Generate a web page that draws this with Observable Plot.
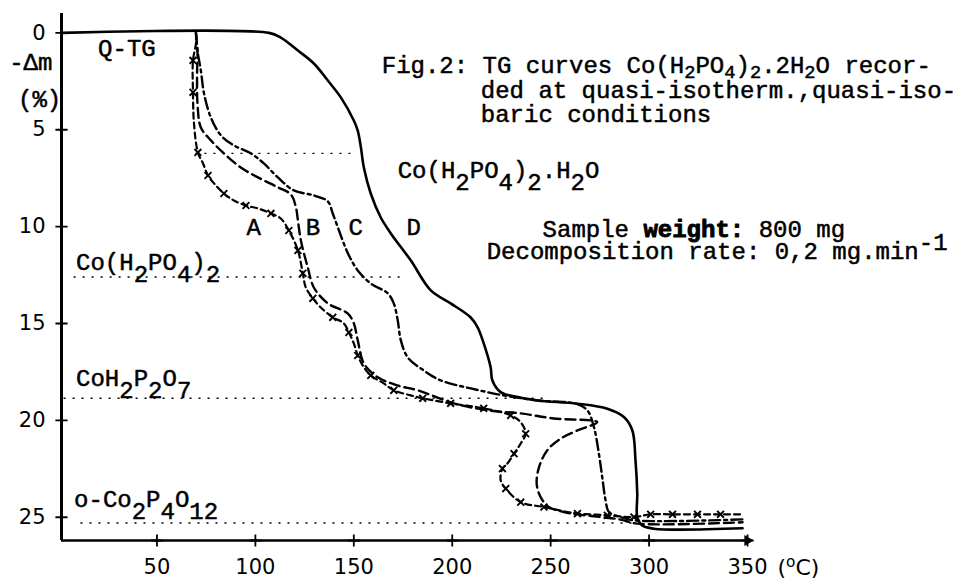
<!DOCTYPE html>
<html><head><meta charset="utf-8">
<script src="https://cdn.jsdelivr.net/npm/d3@7"></script>
<script src="https://cdn.jsdelivr.net/npm/@observablehq/plot@0.6"></script>
<style>html,body{margin:0;padding:0;background:#fff;} #chart{width:955px;height:583px;}</style>
</head><body><div id="chart"></div>
<script>
// ---- axes ----
const xTicks = [50, 100, 150, 200, 250, 300, 350];
const yTicks = [0, 5, 10, 15, 20, 25];
const xDomain = [1.5, 350];
const yDomain = [-1, 26.2];

// ---- curve D (solid) ----
const dT = [1.8,106.9,112.9,121.6,129.7,136.8,143.4,150.0,152.0,153.6,155.1,158.6,163.7,168.8,178.9,189.1,199.2,209.4,212.9,216.0,219.5,220.4,224.6,231.4,243.2,263.6,278.8,287.2,291.5,293.1,294.0,294.0,296.5,302.4,347.5];
const dM = [0,0,0.24,0.91,1.58,2.46,3.33,4.52,5.04,5.91,6.95,8.29,9.53,10.35,11.74,13.29,13.96,14.69,15.2,16.03,17.26,17.94,18.54,18.76,18.97,19.14,19.4,19.83,20.52,22.06,23.78,24.99,25.42,25.59,25.57];

// ---- curve C (dash-dot) ----
const cT = [69.8,70.8,72.3,73.9,77.4,82.5,89.1,97.7,104.3,111.4,119.5,129.7,136.8,139.3,141.9,147.0,152.0,158.6,167.3,170.3,172.3,173.9,177.4,185.5,194.2,209.4,226.1,243.4,263.2,268.6,272.0,274.5,276.2,277.9,279.6,285.5,292.1,347.5];
const cM = [0,1.06,1.94,3.13,4.37,5.29,5.81,6.22,6.74,7.46,8.13,8.39,8.7,9.32,10.04,11.38,12.26,12.93,13.45,13.96,14.84,15.87,16.75,17.42,17.94,18.35,18.71,18.97,19.15,19.48,20.35,21.72,22.93,24.13,24.73,24.99,25.16,25.11];

// ---- curve B (dashed) ----
const bT = [69.8,70.6,70.4,70.6,72.3,77.4,84.0,92.6,101.3,111.4,118.0,120.6,121.6,123.1,126.6,129.7,136.8,146.9,150.0,152.0,155.1,162.2,172.3,182.5,200.8,218.0,234.8,251.5,273.7,263.6,255.1,248.3,244.1,242.9,244.9,249.1,256.8,263.6,275.4,285.5,294.0,347.5];
const bM = [0,1.06,1.94,3.66,4.88,5.55,6.22,6.95,7.46,7.97,8.34,9.01,9.68,10.71,12.1,13.14,13.96,14.48,14.99,15.87,17.06,17.78,18.2,18.45,19.12,19.48,19.64,19.9,20.09,20.52,20.94,21.54,22.41,23.27,23.96,24.47,24.73,24.85,24.99,25.12,25.33,25.26];

// ---- curve A (dashed with x marks) ----
const aT = [69.8,69.8,68.3,68.3,68.8,70.8,73.4,75.9,79.0,84.0,89.1,95.2,101.3,107.9,112.9,117.0,121.6,124.1,125.6,129.2,133.2,139.3,144.9,147.5,150.0,152.0,155.1,158.6,165.2,170.3,178.9,185.0,199.2,216.0,229.7,234.8,237.3,234.8,231.4,228.0,225.5,224.6,227.2,234.8,246.6,258.5,263.6,278.8,292.3,300.8,311.9,324.6,336.3,347.5];
const aM = [0,0.55,1.42,3.07,4.67,6.17,6.74,7.36,7.77,8.29,8.65,8.91,9.06,9.32,9.58,10.2,11.23,12.41,13.14,13.7,14.17,14.68,14.99,15.46,16.03,16.65,17.26,17.68,18.09,18.45,18.71,18.86,19.12,19.38,19.74,20.1,20.69,21.19,21.72,22.23,22.49,23.09,23.52,24.22,24.47,24.73,24.81,24.9,24.99,24.85,24.85,24.85,24.85,24.85];
const aMark = [0,0,1,1,0,1,0,1,0,1, 0,1,0,1,0,1,1,1,0,1, 0,1,0,1,0,1,0,1,0,1, 0,1,1,1,1,0,1,0,1,0, 1,0,1,1,1,0,1,1,1,1, 1,1,1,0];

// ---- composition levels (dotted) ----
const levelM = [6.22, 12.6, 18.86, 25.3];
const levelFrom = [69.8, 7.9, 2.8, 11.4];
const levelTo = [148.5, 175.4, 247, 299.2];

// ---- curve letters ----
const curveLabel = ["A", "B", "C", "D"];
const labelT = [99.2, 129.2, 151.0, 180.4];
const labelM = [10.45, 10.45, 10.45, 10.45];

// ---- annotations ----
const noteText = [
  "Q-TG",
  "Fig.2: TG curves Co(H_[2]PO_[4])_[2].2H_[2]O recor-",
  "ded at quasi-isotherm.,quasi-iso-",
  "baric conditions",
  "Co(H_{2}PO_{4})_{2}.H_{2}O",
  "Sample *{weight:} 800 mg",
  "Decomposition rate: 0,2 mg.min^{-1}",
  "Co(H_{2}PO_{4})_{2}",
  "CoH_{2}P_{2}O_{7}",
  "o-Co_{2}P_{4}O_{12}",
  "-Δm",
  "(%)"
];
const noteX = [20.1, 164.2, 214.5, 214.5, 172.3, 245.9, 217.5, 8.9, 8.9, 7.9, -25.1, -20.6];
const noteY = [1.17, 2.09, 3.36, 4.62, 7.47, 10.51, 11.69, 12.26, 18.25, 24.49, 1.94, 3.8];
const unitText = ["(^{o}C)"];
const unitX = [365.2];
const unitY = [28.0];

// ---- tables ----
const table = (T, M, extra) => T.map((t, i) => ({t, m: M[i], mark: extra ? extra[i] : 0}));
const D = table(dT, dM), C = table(cT, cM), B = table(bT, bM), A = table(aT, aM, aMark);
const levels = levelM.map((m, i) => ({m, from: levelFrom[i], to: levelTo[i]}));
const letters = curveLabel.map((s, i) => ({s, t: labelT[i], m: labelM[i]}));
const notes = noteText.map((s, i) => ({s, t: noteX[i], m: noteY[i]}));
const units = unitText.map((s, i) => ({s, t: unitX[i], m: unitY[i]}));

const mono = "'Liberation Mono', 'DejaVu Sans Mono', monospace";

const chart = Plot.plot({
  width: 955, height: 583,
  marginLeft: 61, marginRight: 208, marginTop: 13, marginBottom: 43,
  style: {fontFamily: "'DejaVu Sans', sans-serif", fontSize: "21px", color: "black", background: "white"},
  x: {domain: xDomain, ticks: xTicks, tickSize: 0, tickPadding: 19, label: null},
  y: {domain: yDomain, reverse: true, ticks: yTicks, tickSize: 0, tickPadding: 16, label: null},
  marks: [
    Plot.ruleY(levels, {y: "m", x1: "from", x2: "to", stroke: "black", strokeWidth: 1.4, strokeDasharray: "2,7"}),
    Plot.line(D, {x: "t", y: "m", curve: "catmull-rom", stroke: "black", strokeWidth: 2.6}),
    Plot.line(C, {x: "t", y: "m", curve: "catmull-rom", stroke: "black", strokeWidth: 2.4, strokeDasharray: "11,4,3,4"}),
    Plot.line(B, {x: "t", y: "m", curve: "catmull-rom", stroke: "black", strokeWidth: 2.4, strokeDasharray: "10,5"}),
    Plot.line(A, {x: "t", y: "m", curve: "catmull-rom", stroke: "black", strokeWidth: 2.2, strokeDasharray: "6,4"}),
    Plot.dot(A.filter(d => d.mark), {x: "t", y: "m", symbol: "times", r: 3.2, stroke: "black", strokeWidth: 1.9}),
    Plot.ruleX([xDomain[0]], {y1: yDomain[0], y2: yDomain[1], stroke: "black", strokeWidth: 3}),
    Plot.ruleY([yDomain[1]], {x1: xDomain[0], x2: xDomain[1], stroke: "black", strokeWidth: 2.6}),
    Plot.dot(yTicks, {x: () => xDomain[0], y: d => d, symbol: "plus", r: 4, stroke: "black", strokeWidth: 1.8}),
    Plot.dot(xTicks, {x: d => d, y: () => yDomain[1], symbol: "plus", r: 4, stroke: "black", strokeWidth: 1.8}),
    Plot.dot([xDomain[1]], {x: d => d, y: () => yDomain[1], symbol: "triangle", rotate: 90, r: 4, fill: "black"}),
    Plot.text(letters, {x: "t", y: "m", text: "s", textAnchor: "middle", lineAnchor: "bottom", fontFamily: mono, fontSize: 24, fill: "black", stroke: "black", strokeWidth: 0.5}),
    Plot.text(notes, {x: "t", y: "m", text: "s", textAnchor: "start", lineAnchor: "bottom", fontFamily: mono, fontSize: 24, fill: "black", stroke: "black", strokeWidth: 0.5}),
    Plot.text(units, {x: "t", y: "m", text: "s", textAnchor: "start", lineAnchor: "bottom", fontFamily: "'DejaVu Sans', sans-serif", fontSize: 22, fill: "black"})
  ]
});

document.getElementById("chart").appendChild(chart);

// rich text: _{..} lowered full-size, _[..] small subscript, ^{..} raised, *{..} bold
(function richText(svg) {
  const ns = "http://www.w3.org/2000/svg";
  svg.querySelectorAll("text").forEach(t => {
    const s = t.textContent;
    if (!/[_^*][\[{]/.test(s)) return;
    const fs = parseFloat(getComputedStyle(t).fontSize) || 24;
    while (t.firstChild) t.removeChild(t.firstChild);
    const re = /([_^*])([\[{])([^\]}]*)[\]}]/g;
    let off = 0, last = 0, m;
    const add = (str, target, opts = {}) => {
      const ts = document.createElementNS(ns, "tspan");
      ts.textContent = str;
      if (target !== off) { ts.setAttribute("dy", String(target - off)); off = target; }
      if (opts.size) ts.setAttribute("font-size", String(opts.size));
      if (opts.bold) { ts.setAttribute("font-weight", "bold"); ts.setAttribute("stroke-width", "0.9"); }
      t.appendChild(ts);
    };
    while ((m = re.exec(s))) {
      if (m.index > last) add(s.slice(last, m.index), 0);
      const kind = m[1], br = m[2], body = m[3];
      if (kind === "*") add(body, 0, {bold: true});
      else if (kind === "_") add(body, br === "{" ? 0.5 * fs : 0.2 * fs, br === "[" ? {size: 0.78 * fs} : {});
      else add(body, -0.4 * fs, body === "o" ? {size: 0.7 * fs} : {});
      last = re.lastIndex;
    }
    if (last < s.length) add(s.slice(last), 0);
  });
})(chart);
</script>
</body></html>
